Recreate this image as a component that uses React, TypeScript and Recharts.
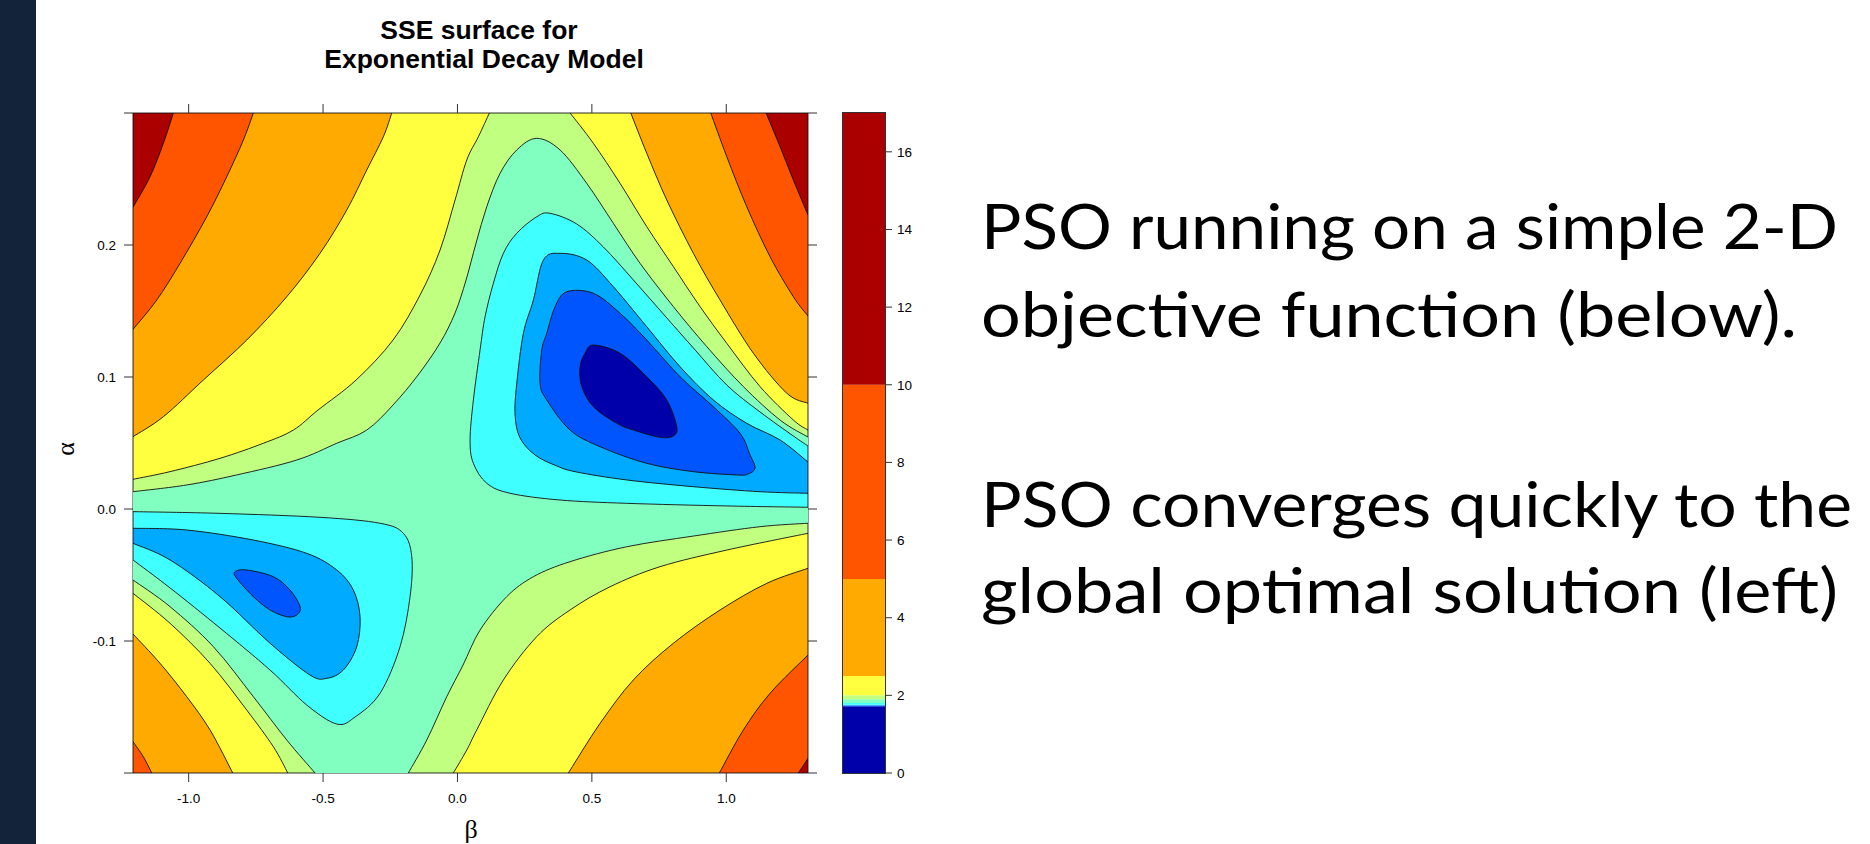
import React from "react";
import { ScatterChart, Scatter, XAxis, YAxis, BarChart, Bar } from "recharts";

type Pt = [number, number];
type XY = { x: number; y: number };

// axis ranges (beta across, alpha up)
const B_MIN = -1.207;
const B_MAX = 1.304;
const A_MIN = -0.2;
const A_MAX = 0.3;

const betaTicks = [-1, -0.5, 0, 0.5, 1];
const alphaTicks = [-0.2, -0.1, 0, 0.1, 0.2, 0.3];
const alphaLabelled = [-0.1, 0, 0.1, 0.2];

// colour key
const levels = [0, 1.72, 1.74, 1.76, 1.8, 1.9, 2.0, 2.5, 5, 10, 17];
const keyTicks = [0, 2, 4, 6, 8, 10, 12, 14, 16];
const bandColors = ["#0000AA", "#0055FF", "#00AAFF", "#40FFFF", "#80FFC0", "#C0FF80", "#FFFF40", "#FFAA00", "#FF5500", "#AA0000"];
const [NAVY, BLUE, AZURE, CYAN, MINT, LGREEN, YELLOW, ORANGE, RORANGE, DRED] = bandColors;

// contour lines, [beta, alpha]
const lgUpper: Pt[] = [[-1.207,0.0131],[-1.0071,0.0182],[-0.8211,0.0258],[-0.5978,0.0371],[-0.449,0.0498],[-0.3374,0.0598],[-0.2396,0.0788],[-0.1466,0.1015],[-0.0647,0.1258],[-0.0089,0.1485],[0.032,0.1735],[0.0692,0.2015],[0.109,0.229],[0.1585,0.2543],[0.2206,0.272],[0.295,0.2808],[0.3817,0.272],[0.481,0.2467],[0.58,0.2164],[0.6793,0.1861],[0.8032,0.1533],[0.9275,0.123],[1.0636,0.0927],[1.2001,0.0674],[1.304,0.0545]];
const lgLowLeft: Pt[] = [[-1.207,-0.0538],[-1.0692,-0.074],[-0.9081,-0.1043],[-0.7593,-0.1422],[-0.635,-0.175],[-0.5298,-0.2]];
const lgLowRight: Pt[] = [[-0.1827,-0.2],[-0.1142,-0.175],[-0.0398,-0.1422],[0.0208,-0.1182],[0.0841,-0.0917],[0.1834,-0.0664],[0.2824,-0.0513],[0.4189,-0.0399],[0.6298,-0.0286],[0.8776,-0.0205],[1.1257,-0.0134],[1.304,-0.0108]];

const yUpLeft: Pt[] = [[-1.207,0.0225],[-1.0692,0.0283],[-0.8832,0.0384],[-0.7221,0.0498],[-0.6105,0.0598],[-0.5186,0.075],[-0.3772,0.0977],[-0.2396,0.128],[-0.1391,0.1621],[-0.0647,0.1962],[-0.0089,0.2341],[0.0346,0.2644],[0.0778,0.282],[0.1187,0.3]];
const yUpRight: Pt[] = [[0.4189,0.3],[0.5056,0.277],[0.6049,0.2467],[0.7042,0.2139],[0.8032,0.1836],[0.9025,0.1533],[1.0019,0.1255],[1.1257,0.0927],[1.2496,0.0674],[1.304,0.0598]];
const yLowLeft: Pt[] = [[-1.207,-0.0639],[-1.0692,-0.0866],[-0.9204,-0.1169],[-0.7839,-0.1523],[-0.6849,-0.1801],[-0.6313,-0.2]];
const yLowRight: Pt[] = [[-0.0153,-0.2],[0.0346,-0.1826],[0.0718,-0.1674],[0.1708,-0.1295],[0.295,-0.0967],[0.4189,-0.0765],[0.5677,-0.0589],[0.7537,-0.0437],[1.0019,-0.0311],[1.304,-0.0184]];

const oUpLeft: Pt[] = [[-1.207,0.0548],[-1.0941,0.0699],[-0.9453,0.0977],[-0.7839,0.128],[-0.635,0.1608],[-0.5112,0.1937],[-0.4118,0.2265],[-0.3374,0.2568],[-0.2757,0.282],[-0.2444,0.3]];
const oUpRight: Pt[] = [[0.6447,0.3],[0.7042,0.2695],[0.7786,0.2341],[0.8776,0.1937],[0.9769,0.1583],[1.1008,0.118],[1.2251,0.0877],[1.304,0.0801]];
const oLowLeft: Pt[] = [[-1.207,-0.0947],[-1.1064,-0.1169],[-1.0071,-0.1422],[-0.9204,-0.1674],[-0.8359,-0.2]];
const oLowRight: Pt[] = [[0.4126,-0.2],[0.5305,-0.1624],[0.6544,-0.1295],[0.8032,-0.1017],[0.9769,-0.0765],[1.1507,-0.0563],[1.304,-0.0449]];

const rUpLeft: Pt[] = [[-1.207,0.1361],[-1.1187,0.1583],[-1.032,0.1861],[-0.9327,0.2214],[-0.8583,0.2517],[-0.7965,0.2795],[-0.7593,0.3]];
const rUpRight: Pt[] = [[0.9423,0.3],[1.0019,0.2669],[1.0763,0.229],[1.163,0.1911],[1.2496,0.1608],[1.304,0.1462]];
const rLowLeft: Pt[] = [[-1.207,-0.1763],[-1.1685,-0.1877],[-1.1373,-0.2]];
const rLowRight: Pt[] = [[0.9743,-0.2],[1.0636,-0.1674],[1.163,-0.1396],[1.304,-0.1106]];

const dUpLeft: Pt[] = [[-1.207,0.2286],[-1.1436,0.2517],[-1.0941,0.277],[-1.0569,0.3]];
const dUpRight: Pt[] = [[1.1481,0.3],[1.2001,0.2745],[1.2496,0.2492],[1.304,0.2227]];
const dLowRight: Pt[] = [[1.2682,-0.2],[1.304,-0.1889]];

const cyanRight: Pt[] = [[1.304,0.0013],[1.0019,0.0023],[0.6298,0.0043],[0.3817,0.0068],[0.1957,0.0119],[0.109,0.0195],[0.0592,0.0346],[0.0469,0.0523],[0.0592,0.0826],[0.0841,0.1205],[0.1027,0.1457],[0.1336,0.171],[0.1708,0.1937],[0.2206,0.2089],[0.295,0.2214],[0.3445,0.224],[0.4438,0.2159],[0.5428,0.1985],[0.6544,0.1735],[0.766,0.1477],[0.8776,0.122],[1.0019,0.0939],[1.1257,0.0735],[1.2496,0.0553],[1.304,0.0477]];
const azureRight: Pt[] = [[1.304,0.0119],[1.1257,0.0131],[0.8776,0.0169],[0.6298,0.022],[0.4438,0.028],[0.3694,0.0326],[0.2887,0.0409],[0.2329,0.0538],[0.2143,0.0712],[0.2206,0.0952],[0.2452,0.1331],[0.2824,0.1583],[0.3196,0.1886],[0.3817,0.1937],[0.481,0.1886],[0.58,0.1684],[0.7042,0.1381],[0.8281,0.1078],[0.952,0.0826],[1.0763,0.0649],[1.2001,0.0523],[1.304,0.0356]];
const blueRight: Pt[] = [[0.4066,0.1646],[0.5056,0.1634],[0.6049,0.1483],[0.7042,0.128],[0.8281,0.1002],[0.952,0.0775],[1.0513,0.0573],[1.0885,0.0409],[1.1071,0.0311],[1.0811,0.0265],[1.0391,0.0258],[0.8776,0.0283],[0.7042,0.0346],[0.5305,0.0472],[0.4189,0.0598],[0.3322,0.0826],[0.3073,0.0952],[0.3136,0.1205],[0.3322,0.1331],[0.3631,0.1533]];
const navyRight: Pt[] = [[0.5056,0.1242],[0.6049,0.118],[0.7042,0.1002],[0.7786,0.0826],[0.8158,0.0623],[0.8032,0.0553],[0.7537,0.0543],[0.6544,0.0598],[0.5926,0.0649],[0.5056,0.0775],[0.4624,0.0927],[0.4561,0.1078],[0.4747,0.118]];

const cyanLeft: Pt[] = [[-1.207,-0.002],[-0.8832,-0.0033],[-0.5112,-0.0063],[-0.2879,-0.0108],[-0.2013,-0.0184],[-0.17,-0.0361],[-0.1763,-0.0664],[-0.2135,-0.1043],[-0.2879,-0.1396],[-0.381,-0.1576],[-0.449,-0.1629],[-0.5606,-0.1485],[-0.6972,-0.122],[-0.8832,-0.0902],[-1.0692,-0.0598],[-1.207,-0.0386]];
const azureLeft: Pt[] = [[-1.207,-0.0146],[-1.0071,-0.0159],[-0.7593,-0.0235],[-0.5606,-0.0336],[-0.449,-0.0462],[-0.3873,-0.0614],[-0.3624,-0.0816],[-0.3746,-0.1043],[-0.4245,-0.122],[-0.4862,-0.1283],[-0.5484,-0.1258],[-0.6972,-0.1017],[-0.8832,-0.0664],[-1.0692,-0.0386],[-1.207,-0.026]];
const blueLeft: Pt[] = [[-0.8274,-0.0475],[-0.7839,-0.0462],[-0.6849,-0.0513],[-0.6228,-0.0614],[-0.5856,-0.074],[-0.5978,-0.0803],[-0.635,-0.0816],[-0.6972,-0.0765],[-0.7593,-0.0664],[-0.8211,-0.0525]];

const TL: Pt = [B_MIN, A_MAX];
const TR: Pt = [B_MAX, A_MAX];
const BL: Pt = [B_MIN, A_MIN];
const BR: Pt = [B_MAX, A_MIN];

interface Region { line: Pt[]; edge: Pt[]; fill: string; closed?: boolean; bare?: boolean }

// painted in order: background, higher bands over the corners, then the basins
const regions: Region[] = [
  { line: [], edge: [BL, TL, TR, BR], fill: MINT, bare: true },
  { line: lgUpper, edge: [TR, TL], fill: LGREEN },
  { line: lgLowLeft, edge: [BL], fill: LGREEN },
  { line: lgLowRight, edge: [BR], fill: LGREEN },
  { line: yUpLeft, edge: [TL], fill: YELLOW },
  { line: yUpRight, edge: [TR], fill: YELLOW },
  { line: yLowLeft, edge: [BL], fill: YELLOW },
  { line: yLowRight, edge: [BR], fill: YELLOW },
  { line: oUpLeft, edge: [TL], fill: ORANGE },
  { line: oUpRight, edge: [TR], fill: ORANGE },
  { line: oLowLeft, edge: [BL], fill: ORANGE },
  { line: oLowRight, edge: [BR], fill: ORANGE },
  { line: rUpLeft, edge: [TL], fill: RORANGE },
  { line: rUpRight, edge: [TR], fill: RORANGE },
  { line: rLowLeft, edge: [BL], fill: RORANGE },
  { line: rLowRight, edge: [BR], fill: RORANGE },
  { line: dUpLeft, edge: [TL], fill: DRED },
  { line: dUpRight, edge: [TR], fill: DRED },
  { line: dLowRight, edge: [BR], fill: DRED },
  { line: cyanRight, edge: [], fill: CYAN },
  { line: cyanLeft, edge: [], fill: CYAN },
  { line: azureRight, edge: [], fill: AZURE },
  { line: azureLeft, edge: [], fill: AZURE },
  { line: blueRight, edge: [], fill: BLUE, closed: true },
  { line: blueLeft, edge: [], fill: BLUE, closed: true },
  { line: navyRight, edge: [], fill: NAVY, closed: true },
];

const toRows = (pts: Pt[]) => pts.map(([b, a]) => ({ b, a }));

function smooth(pts: XY[], closed: boolean) {
  const n = pts.length;
  const at = (i: number) => (closed ? pts[(i + n) % n] : pts[Math.max(0, Math.min(n - 1, i))]);
  const segs = closed ? n : n - 1;
  let d = "";
  for (let i = 0; i < segs; i++) {
    const p0 = at(i - 1), p1 = at(i), p2 = at(i + 1), p3 = at(i + 2);
    d += ` C${p1.x + (p2.x - p0.x) / 6},${p1.y + (p2.y - p0.y) / 6} ${p2.x - (p3.x - p1.x) / 6},${p2.y - (p3.y - p1.y) / 6} ${p2.x},${p2.y}`;
  }
  return d;
}

function regionPath(pts: XY[], nLine: number, closed: boolean) {
  if (nLine === 0) return "M" + pts.map((p) => `${p.x},${p.y}`).join(" L") + " Z";
  if (closed) return `M${pts[0].x},${pts[0].y}` + smooth(pts, true) + " Z";
  const curve = pts.slice(0, nLine);
  let d = `M${curve[0].x},${curve[0].y}` + smooth(curve, false);
  pts.slice(nLine).forEach((p) => (d += ` L${p.x},${p.y}`));
  return d + " Z";
}

const regionLine = (r: Region) => (props: any) => {
  const pts: XY[] = (props.points || []).filter((p: XY) => p && p.x != null && p.y != null);
  if (pts.length < 2) return <g />;
  return (
    <path
      d={regionPath(pts, r.line.length, !!r.closed)}
      fill={r.fill}
      stroke={r.bare ? "none" : "#111"}
      strokeWidth={0.9}
      strokeLinejoin="round"
    />
  );
};

const noDot = () => <g />;

const tickStyle = { fill: "#000", fontSize: 13.5, fontFamily: '"Liberation Sans", Arial, sans-serif' };
const AXIS = "#333";

const keyRow: Record<string, number | string> = { name: "key" };
levels.slice(1).forEach((lv, i) => (keyRow[`s${i}`] = lv - levels[i]));

export default function App() {
  return (
    <div style={{ position: "fixed", left: 0, top: 0, width: 1870, height: 844, background: "#fff", overflow: "hidden" }}>
      <div style={{ position: "absolute", left: 0, top: 0, width: 36, height: 844, background: "#12233A" }} />

      <div style={{ position: "absolute", left: 0, top: 0 }}>
        <ScatterChart width={830} height={844} margin={{ top: 93, right: 0, bottom: 40, left: 0 }}>
          {regions.map((r, i) => (
            <Scatter
              key={i}
              data={toRows([...r.line, ...r.edge])}
              shape={noDot}
              line={regionLine(r)}
              lineType="joint"
              isAnimationActive={false}
            />
          ))}
          <XAxis
            type="number"
            dataKey="b"
            domain={[B_MIN, B_MAX]}
            ticks={betaTicks}
            interval={0}
            allowDataOverflow
            height={31}
            tickSize={9}
            tickMargin={11}
            stroke={AXIS}
            tick={tickStyle}
            tickFormatter={(v: number) => v.toFixed(1)}
          />
          <XAxis
            xAxisId="top"
            orientation="top"
            type="number"
            dataKey="b"
            domain={[B_MIN, B_MAX]}
            ticks={betaTicks}
            interval={0}
            allowDataOverflow
            height={20}
            tickSize={9}
            stroke={AXIS}
            tickFormatter={() => ""}
          />
          <YAxis
            type="number"
            dataKey="a"
            domain={[A_MIN, A_MAX]}
            ticks={alphaTicks}
            interval={0}
            allowDataOverflow
            width={133}
            tickSize={9}
            tickMargin={8}
            stroke={AXIS}
            tick={tickStyle}
            tickFormatter={(v: number) => (alphaLabelled.includes(v) ? v.toFixed(1) : "")}
          />
          <YAxis
            yAxisId="right"
            orientation="right"
            type="number"
            dataKey="a"
            domain={[A_MIN, A_MAX]}
            ticks={alphaTicks}
            interval={0}
            allowDataOverflow
            width={22}
            tickSize={9}
            stroke={AXIS}
            tickFormatter={() => ""}
          />
        </ScatterChart>
      </div>

      <div style={{ position: "absolute", left: 800, top: 0 }}>
        <BarChart
          width={150}
          height={844}
          data={[keyRow]}
          margin={{ top: 113, right: 0, bottom: 71, left: 43 }}
          barCategoryGap={0}
          barGap={0}
        >
          <XAxis dataKey="name" hide />
          <YAxis
            orientation="right"
            type="number"
            domain={[0, 17]}
            ticks={keyTicks}
            interval={0}
            allowDataOverflow
            width={65}
            tickSize={7}
            tickMargin={5}
            axisLine={false}
            stroke={AXIS}
            tick={tickStyle}
          />
          {bandColors.map((c, i) => (
            <Bar key={i} dataKey={`s${i}`} stackId="k" fill={c} isAnimationActive={false} />
          ))}
        </BarChart>
      </div>
      <div
        style={{
          position: "absolute",
          left: 842,
          top: 112,
          width: 44,
          height: 662,
          boxSizing: "border-box",
          border: `1px solid ${AXIS}`,
          pointerEvents: "none",
        }}
      />

      <svg width={1870} height={844} style={{ position: "absolute", left: 0, top: 0, pointerEvents: "none" }}>
        <g fontFamily='"Liberation Sans", Arial, sans-serif' fontWeight="bold" fontSize={26.5} fill="#000" textAnchor="middle">
          <text x={479} y={38.5}>SSE surface for</text>
          <text x={484} y={68}>Exponential Decay Model</text>
        </g>
        <g fontFamily='"Liberation Serif", "DejaVu Serif", serif' fontSize={26} fill="#000" textAnchor="middle">
          <text transform="translate(74,449) rotate(-90)">α</text>
          <text x={471} y={837.5}>β</text>
        </g>
        <g fontFamily='Lato, "Open Sans", sans-serif' fontSize={62} fill="#000">
          <text x={981} y={249} textLength={857} lengthAdjust="spacingAndGlyphs">PSO running on a simple 2-D</text>
          <text x={981} y={336.7} textLength={816} lengthAdjust="spacingAndGlyphs">objective function (below).</text>
          <text x={981} y={526.7} textLength={871} lengthAdjust="spacingAndGlyphs">PSO converges quickly to the</text>
          <text x={981} y={613.3} textLength={857} lengthAdjust="spacingAndGlyphs">global optimal solution (left)</text>
        </g>
      </svg>
    </div>
  );
}
